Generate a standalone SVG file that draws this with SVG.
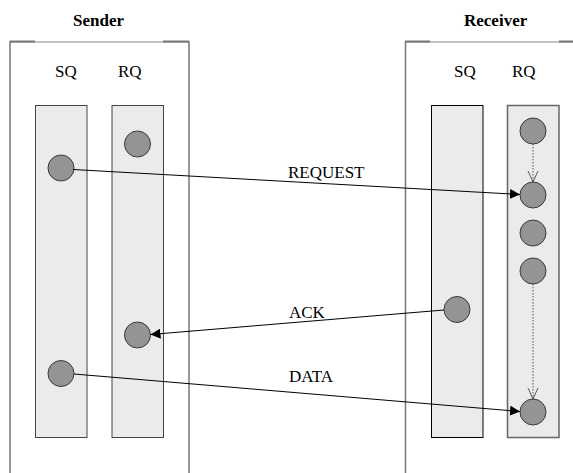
<svg xmlns="http://www.w3.org/2000/svg" width="573" height="473" viewBox="0 0 573 473">
<style>
.title{font-family:"Liberation Serif",serif;font-weight:bold;font-size:17px;fill:#000}
.lbl{font-family:"Liberation Serif",serif;font-size:17px;fill:#000}
.frame{fill:none;stroke:#777;stroke-width:1.5}
.top{stroke:#888;stroke-width:1}
.corner{stroke:#777;stroke-width:2}
.col{fill:#ebebeb;stroke:#444;stroke-width:1}
.item{fill:#949494;stroke:#3a3a3a;stroke-width:1}
.msg{stroke:#000;stroke-width:1;fill:none}
.dot{stroke:#555;stroke-width:1;stroke-dasharray:1.5,1.5;fill:none}
.vh{stroke:#333;stroke-width:0.8;fill:none}
</style>
<defs>
<marker id="ah" markerWidth="10" markerHeight="10" refX="10" refY="5" orient="auto" markerUnits="userSpaceOnUse">
<path d="M0,0 L10,5 L0,10 Z" fill="#000"/>
</marker>
</defs>

<g id="sender">
<text class="title" x="73" y="26">Sender</text>
<line class="top" x1="10" y1="42" x2="189" y2="42"/>
<line class="corner" x1="10" y1="41.5" x2="35" y2="41.5"/>
<line class="corner" x1="163" y1="41.5" x2="189" y2="41.5"/>
<line class="frame" x1="10" y1="41" x2="10" y2="473"/>
<line class="frame" x1="189" y1="41" x2="189" y2="473"/>
<text class="lbl" x="55" y="77">SQ</text>
<text class="lbl" x="118" y="77">RQ</text>
</g>

<g id="sender-sq">
<rect class="col" x="35.5" y="105.5" width="51.5" height="332"/>
<circle class="item" cx="61" cy="168" r="13"/>
<circle class="item" cx="61" cy="373.5" r="13"/>
</g>

<g id="sender-rq">
<rect class="col" x="112" y="105.5" width="51.5" height="332"/>
<circle class="item" cx="137.5" cy="144" r="13"/>
<circle class="item" cx="137.5" cy="335" r="13"/>
</g>

<g id="receiver">
<text class="title" x="464" y="26">Receiver</text>
<line class="top" x1="405" y1="42" x2="573" y2="42"/>
<line class="corner" x1="405" y1="41.5" x2="430" y2="41.5"/>
<line class="corner" x1="559" y1="41.5" x2="573" y2="41.5"/>
<line class="frame" x1="405.5" y1="41" x2="405.5" y2="473"/>
<text class="lbl" x="454" y="77">SQ</text>
<text class="lbl" x="512" y="77">RQ</text>
</g>

<g id="receiver-sq">
<rect class="col" x="431.5" y="105.5" width="51.5" height="332" style="stroke:#000"/>
<circle class="item" cx="457" cy="309.5" r="13"/>
</g>

<g id="receiver-rq">
<rect class="col" x="507.5" y="105.5" width="51.5" height="332" style="stroke:#666;stroke-width:1.5"/>
<circle class="item" cx="533" cy="131" r="13"/>
<circle class="item" cx="533" cy="195" r="13"/>
<circle class="item" cx="533" cy="233" r="13"/>
<circle class="item" cx="533" cy="271" r="13"/>
<circle class="item" cx="533" cy="412" r="13"/>
</g>

<g id="connectors">
<line class="dot" x1="533" y1="144" x2="533" y2="182"/>
<path class="vh" d="M528,171 L533,182 L538,171"/>
<line class="dot" x1="533" y1="284" x2="533" y2="399"/>
<path class="vh" d="M528,388 L533,399 L538,388"/>
<line class="msg" x1="73" y1="169.5" x2="520" y2="194.5" marker-end="url(#ah)"/>
<line class="msg" x1="444" y1="310" x2="150.5" y2="334.5" marker-end="url(#ah)"/>
<line class="msg" x1="74" y1="374" x2="520" y2="411.5" marker-end="url(#ah)"/>
<text class="lbl" x="288" y="178">REQUEST</text>
<text class="lbl" x="289" y="318">ACK</text>
<text class="lbl" x="289" y="382">DATA</text>
</g>
</svg>
